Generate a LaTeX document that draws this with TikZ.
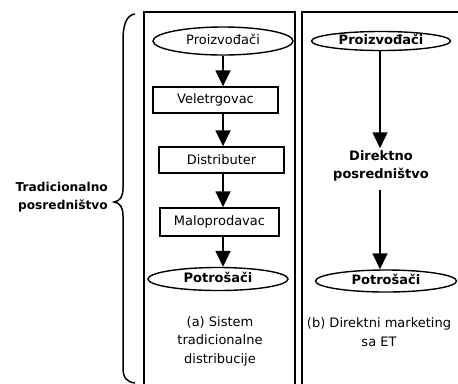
\documentclass[tikz,border=0pt]{standalone}
\usepackage{fontspec}
\setmainfont{DejaVu Sans}
\usetikzlibrary{shapes.geometric,arrows.meta}
\begin{document}
\begin{tikzpicture}[x=1bp,y=-1bp,
  txt/.style={font=\fontsize{13bp}{18.5bp}\selectfont, align=center, inner sep=0pt},
  btxt/.style={font=\fontsize{13bp}{18.5bp}\selectfont\bfseries, align=center, inner sep=0pt},
  ellnode/.style={draw, ellipse, line width=1.4bp, inner sep=0pt, text height=9bp, text depth=2bp},
  boxnode/.style={draw, rectangle, line width=1.4bp, inner sep=0pt, txt},
  panel/.style={line width=1.4bp},
  arr/.style={line width=1.6bp, -{Triangle[length=16bp,width=15bp]}},
  brace/.style={line width=1.5bp}
]
\useasboundingbox (0,0) rectangle (458,383);

% panels
\draw[panel] (144,384) -- (144,12) -- (295,12) -- (295,384);
\draw[panel] (302,384) -- (302,12) -- (459,12);

% left column
\coordinate (ax) at (223,0);
\node[ellnode, txt, minimum width=140bp, minimum height=28bp] (lp) at (223,41) {Proizvođači};
\node[boxnode, minimum width=125bp, minimum height=26bp] (lv) at (215.5,100) {Veletrgovac};
\node[boxnode, minimum width=125bp, minimum height=26bp] (ld) at (221.5,160) {Distributer};
\node[boxnode, minimum width=119bp, minimum height=28bp] (lm) at (219.5,222) {Maloprodavac};
\node[ellnode, btxt, minimum width=140bp, minimum height=23bp] (lc) at (218,279) {Potrošači};
\node[txt] (lcap) at (220,341) {(a) Sistem\\tradicionalne\\distribucije};

\draw[arr] (lp.south -| ax) -- (lv.north -| ax);
\draw[arr] (lv.south -| ax) -- (ld.north -| ax);
\draw[arr] (ld.south -| ax) -- (lm.north -| ax);
\draw[arr] (lm.south -| ax) -- (lc.north -| ax);

% right column
\coordinate (bx) at (380,0);
\node[ellnode, btxt, minimum width=139bp, minimum height=19bp] (rp) at (381,41) {Proizvođači};
\node[btxt, inner sep=2bp] (rd) at (381,166) {Direktno\\posredništvo};
\node[ellnode, btxt, minimum width=141bp, minimum height=22bp] (rc) at (386,281) {Potrošači};
\node[txt] (rcap) at (379,332) {(b) Direktni marketing\\sa ET};

\draw[arr] (rp.south -| bx) -- (rd.north -| bx);
\draw[arr, shorten <=6bp] (rd.south -| bx) -- (rc.north -| bx);

% brace and label
\draw[brace] (135,14) .. controls (126,15) and (123,26) .. (123,40)
  -- (123,188) .. controls (123,197) and (120,201) .. (114,202)
  .. controls (120,203) and (123,207) .. (123,216)
  -- (123,368) .. controls (123,378) and (127,382) .. (135,383);
\node[font=\fontsize{12.2bp}{17.5bp}\selectfont\bfseries, align=right, inner sep=0pt, anchor=east] (lab) at (108,197) {Tradicionalno\\posredništvo};
\end{tikzpicture}
\end{document}
